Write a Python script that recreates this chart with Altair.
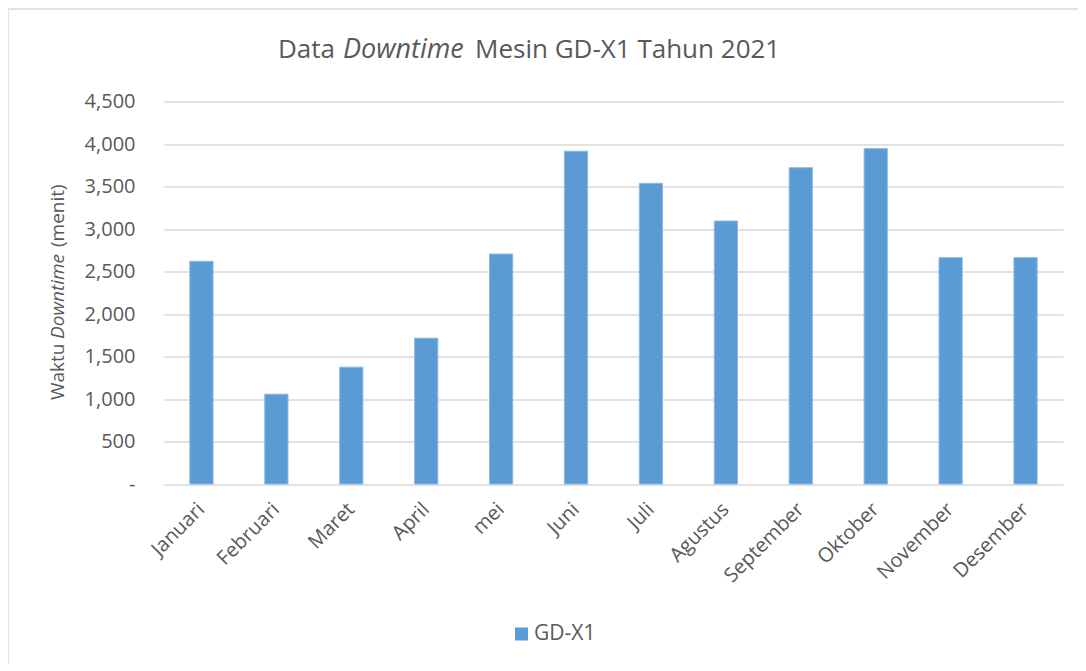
import altair as alt
import pandas as pd

# ---- data ----
months = ["Januari", "Februari", "Maret", "April", "mei", "Juni", "Juli",
          "Agustus", "September", "Oktober", "November", "Desember"]
downtime = [2620, 1057, 1375, 1715, 2705, 3915, 3537, 3094, 3721, 3946, 2663, 2663]
series = ["GD-X1"] * len(months)
y_ticks = [0, 500, 1000, 1500, 2000, 2500, 3000, 3500, 4000, 4500]

title_parts = ["Data", "Downtime", "Mesin GD-X1 Tahun 2021"]
ytitle_parts = ["Waktu", "Downtime", "(menit)"]

FONT = "Open Sans"
GREY = "#595959"
GRID = "#d9d9d9"
BLUE = "#5b9bd5"

df = pd.DataFrame({"Bulan": months, "Downtime": downtime, "Seri": series})

W, H = 899, 382.5

bars = alt.Chart(df).mark_bar(stroke="#8db8e2", strokeWidth=1).encode(
    x=alt.X("Bulan:N", sort=months,
            scale=alt.Scale(paddingInner=0.69, paddingOuter=0.345),
            axis=alt.Axis(title=None, labelAngle=-45, labelAlign="right",
                          labelBaseline="middle", labelPadding=22,
                          labelFontSize=20, labelFont=FONT, labelColor=GREY,
                          ticks=False, domain=False, grid=False)),
    y=alt.Y("Downtime:Q", scale=alt.Scale(domain=[0, 4500], nice=False, zero=True),
            axis=alt.Axis(title=None, values=y_ticks, format=",.0f",
                          labelExpr="datum.value == 0 ? '-' : datum.label",
                          labelFontSize=20, labelFont=FONT, labelColor=GREY,
                          labelPadding=29, ticks=False, domain=False,
                          grid=True, gridColor=GRID, gridWidth=1.3)),
    color=alt.Color("Seri:N", scale=alt.Scale(range=[BLUE]),
                    legend=alt.Legend(title=None, orient="none", legendX=347, legendY=522,
                                      symbolType="square", symbolSize=169,
                                      symbolStrokeWidth=0, padding=0, labelOffset=2,
                                      labelFontSize=21, labelFont=FONT, labelColor=GREY)),
)

def txt(s, x, y, size, style="normal", align="left", angle=0):
    return alt.Chart(pd.DataFrame({"t": [s]})).mark_text(
        font=FONT, fontSize=size, fontStyle=style, color=GREY, align=align,
        baseline="alphabetic" if angle == 0 else "middle", angle=angle
    ).encode(text="t:N", x=alt.value(x), y=alt.value(y))

title = (txt(title_parts[0], 171, -43.5, 26, align="right")
         + txt(title_parts[1], 179, -43.5, 27, style="italic")
         + txt(title_parts[2], 311, -43.5, 26))

ytitle = (txt(ytitle_parts[0], -106, 298.5, 19, angle=270)
          + txt(ytitle_parts[1], -106, 237.5, 19, style="italic", angle=270)
          + txt(ytitle_parts[2], -106, 145.5, 19, angle=270))

border = alt.Chart(pd.DataFrame({"k": [0]})).mark_rect(
    fill=None, stroke=GRID, strokeWidth=1.5
).encode(x=alt.value(-156), x2=alt.value(940), y=alt.value(-92.5), y2=alt.value(600))

chart = alt.layer(border, bars, title, ytitle).properties(
    width=W, height=H,
    autosize=alt.AutoSizeParams(type="none"),
    padding={"left": 156, "top": 93.5, "right": 15, "bottom": 179},
).configure_view(stroke=None)

chart.save("out.html", embed_options={"renderer": "svg", "actions": False})
